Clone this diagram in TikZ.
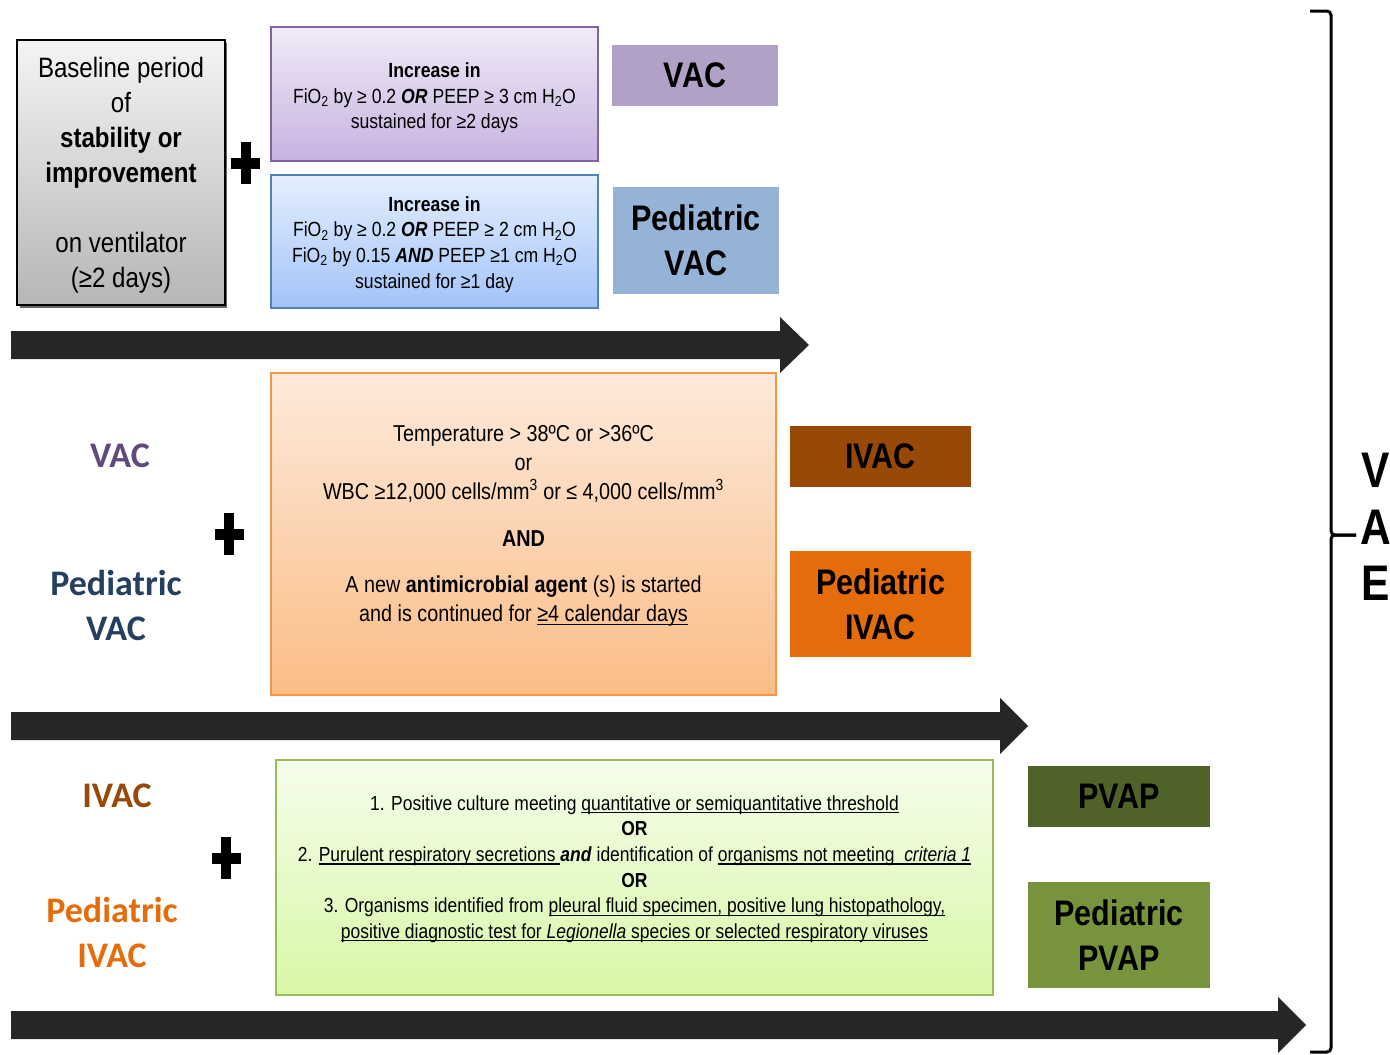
\documentclass[tikz,border=0pt]{standalone}
\usepackage{fontspec}
\setmainfont{Liberation Sans}[FakeStretch=0.86]
\newfontfamily\calibri{Carlito}
\newfontfamily\vaefont{Liberation Sans}[FakeStretch=0.85]
\newcommand\myul[1]{\leavevmode\setbox0\hbox{#1}\rlap{\raisebox{-3.2pt}{\rule{\wd0}{1.3pt}}}\box0}
\definecolor{grayTop}{HTML}{F4F4F4}
\definecolor{grayBot}{HTML}{B6B6B6}
\definecolor{purTop}{HTML}{F1EBF8}
\definecolor{purBot}{HTML}{C7B2E0}
\definecolor{purLine}{HTML}{8064A2}
\definecolor{bluTop}{HTML}{E5EFFE}
\definecolor{bluBot}{HTML}{A2C3F8}
\definecolor{bluLine}{HTML}{4F81BD}
\definecolor{orTop}{HTML}{FDEADB}
\definecolor{orBot}{HTML}{FBBD86}
\definecolor{orLine}{HTML}{F79646}
\definecolor{grTop}{HTML}{F5FDEC}
\definecolor{grBot}{HTML}{D7F8A6}
\definecolor{grLine}{HTML}{9BBB59}
\definecolor{vacC}{HTML}{B2A1C7}
\definecolor{pvacC}{HTML}{95B3D7}
\definecolor{ivacC}{HTML}{984807}
\definecolor{pivacC}{HTML}{E46C0A}
\definecolor{pvapC}{HTML}{4F6228}
\definecolor{ppvapC}{HTML}{77933C}
\definecolor{arrC}{HTML}{262626}
\definecolor{lvac}{HTML}{604A7B}
\definecolor{lpvac}{HTML}{243F60}
\begin{document}
\begin{tikzpicture}[x=1pt,y=-1pt,
  critbox/.style={line width=2pt, inner sep=0pt, align=center},
  tagbox/.style={inner sep=0pt, align=center, font=\bfseries\fontsize{35.5}{45}\selectfont},
  lefttag/.style={inner sep=0pt, align=center, font=\calibri\bfseries\fontsize{36}{45}\selectfont},
  crittext/.style={inner sep=0pt, align=center},
  plussign/.pic={\fill (-14.5,-5.5) rectangle (14.5,5.5); \fill (-5,-21) rectangle (5,21);},
  bigarrow/.style={fill=arrC}
]
\useasboundingbox (0,0) rectangle (1390,1055);

% ---------- row 1 ----------
\fill[black!60] (19.5,42.5) rectangle (227,307.5);
\node[draw=black, line width=1.5pt, top color=grayTop, bottom color=grayBot,
  minimum width=208pt, minimum height=265pt, inner sep=0pt] (base) at (121,172.5) {};
\node[crittext, font=\fontsize{28}{35}\selectfont] (baset) at (121,175.5)
  {Baseline period\\of\\\textbf{stability or}\\\textbf{improvement}\\[35pt]on ventilator\\(≥2 days)};
\pic at (245.5,163) {plussign};
\node[critbox, draw=purLine, top color=purTop, bottom color=purBot,
  minimum width=327pt, minimum height=134pt] (vacc) at (434.5,94) {};
\node[crittext, font=\fontsize{20.5}{25.5}\selectfont] (vacct) at (434.5,98)
  {\textbf{Increase in}\\FiO\textsubscript{2} by ≥ 0.2 \textbf{\textit{OR}} PEEP ≥ 3 cm H\textsubscript{2}O\\sustained for ≥2 days};
\node[critbox, draw=bluLine, top color=bluTop, bottom color=bluBot,
  minimum width=327pt, minimum height=133pt] (pvacc) at (434.5,241.5) {};
\node[crittext, font=\fontsize{20.5}{25.7}\selectfont] (pvacct) at (434.5,244.5)
  {\textbf{Increase in}\\FiO\textsubscript{2} by ≥ 0.2 \textbf{\textit{OR}} PEEP ≥ 2 cm H\textsubscript{2}O\\FiO\textsubscript{2} by 0.15 \textbf{\textit{AND}} PEEP ≥1 cm H\textsubscript{2}O\\sustained for ≥1 day};
\node[tagbox, fill=vacC, minimum width=166pt, minimum height=61pt] (vac) at (695,75.5) {VAC};
\node[tagbox, fill=pvacC, minimum width=166pt, minimum height=107pt] (pvac) at (696,240.5) {Pediatric\\VAC};
\fill[bigarrow] (11,331) -- (780,331) -- (780,317) -- (809,345) -- (780,373) -- (780,359) -- (11,359) -- cycle;

% ---------- row 2 ----------
\node[lefttag, text=lvac] (lvac) at (120,456) {VAC};
\node[lefttag, text=lpvac] (lpvac) at (116,605.5) {Pediatric\\VAC};
\pic at (229,534) {plussign};
\node[critbox, draw=orLine, top color=orTop, bottom color=orBot,
  minimum width=505pt, minimum height=322pt] (ivacbox) at (523.5,534) {};
\node[crittext, font=\fontsize{23}{29}\selectfont] (ivact) at (523.5,526) 
  {Temperature > 38ºC or >36ºC\\or\\WBC ≥12,000 cells/mm\textsuperscript{3} or ≤ 4,000 cells/mm\textsuperscript{3}\\[18pt]\textbf{AND}\\[17pt]A new \textbf{antimicrobial agent} (s) is started\\and is continued for \myul{≥4 calendar days}};
\node[tagbox, fill=ivacC, minimum width=181pt, minimum height=61pt] (ivac) at (880.5,456.5) {IVAC};
\node[tagbox, fill=pivacC, minimum width=181pt, minimum height=106pt] (pivac) at (880.5,604) {Pediatric\\IVAC};
\fill[bigarrow] (11,712) -- (1000,712) -- (1000,698) -- (1028,726) -- (1000,754) -- (1000,740) -- (11,740) -- cycle;

% ---------- row 3 ----------
\node[lefttag, text=ivacC] (livac) at (117,796) {IVAC};
\node[lefttag, text=pivacC] (lpivac) at (112,932.5) {Pediatric\\IVAC};
\pic at (226,858) {plussign};
\node[critbox, draw=grLine, top color=grTop, bottom color=grBot,
  minimum width=717pt, minimum height=235pt] (pvapbox) at (634.5,877.5) {};
\node[crittext, font=\fontsize{20.3}{25.6}\selectfont] (pvapt) at (634.5,869)
  {1. Positive culture meeting \myul{quantitative or semiquantitative threshold}\\
   \textbf{OR}\\
   2. \myul{Purulent respiratory secretions }\textbf{\textit{and}} identification of \myul{organisms not meeting \ \textit{criteria 1}}\\
   \textbf{OR}\\
   3. Organisms identified from \myul{pleural fluid specimen, positive lung histopathology,}\\
   \myul{positive diagnostic test for \textit{Legionella} species or selected respiratory viruses}};
\node[tagbox, fill=pvapC, minimum width=182pt, minimum height=61pt] (pvap) at (1119,796.5) {PVAP};
\node[tagbox, fill=ppvapC, minimum width=182pt, minimum height=106pt] (ppvap) at (1119,935) {Pediatric\\PVAP};
\fill[bigarrow] (11,1011) -- (1278,1011) -- (1278,997) -- (1306,1025) -- (1278,1053) -- (1278,1039) -- (11,1039) -- cycle;

% ---------- bracket ----------
\coordinate (btop) at (1310,11);
\coordinate (bbot) at (1310,1052);
\coordinate (bmid) at (1331,535);
\coordinate (bnib) at (1356,535);
\draw[line width=3pt, rounded corners=4pt] (btop) -| (bmid) -- (bnib);
\draw[line width=3pt, rounded corners=4pt] (bnib) -- (bmid) |- (bbot);
\node[inner sep=0pt, align=center, font=\vaefont\bfseries\fontsize{50}{56.5}\selectfont] (vae) at (1376,527) {V\\A\\E};
\end{tikzpicture}
\end{document}
